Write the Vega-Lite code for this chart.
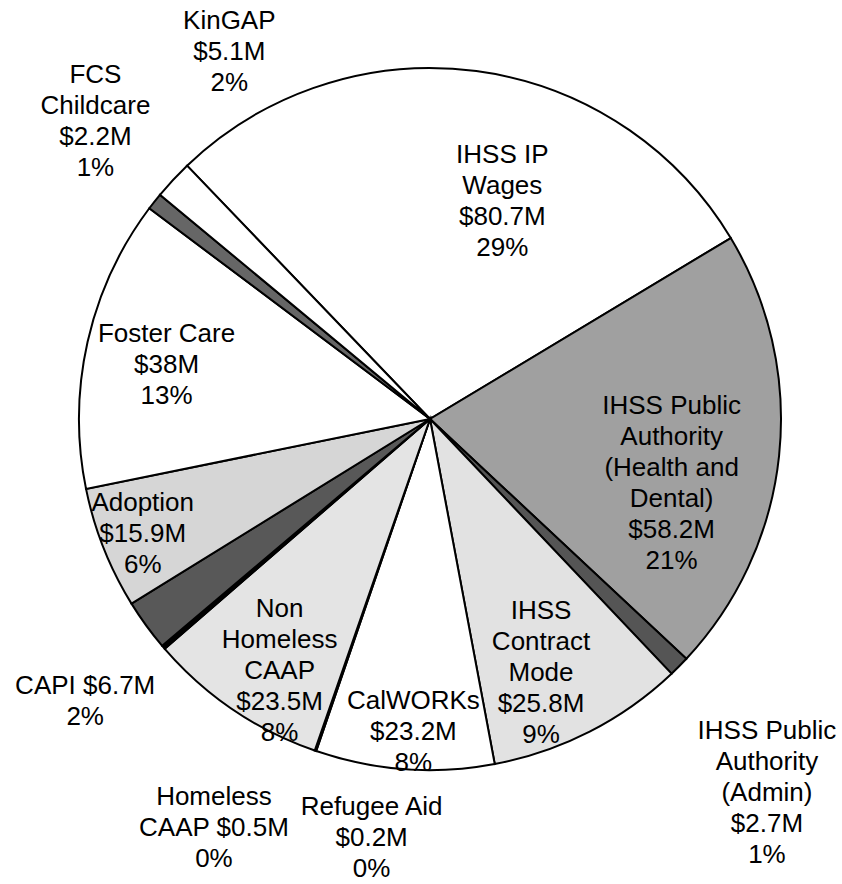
{
  "$schema": "https://vega.github.io/schema/vega-lite/v6.json",
  "width": 822,
  "height": 838,
  "autosize": "none",
  "padding": {"left": 19, "top": 0, "right": 0, "bottom": 46},
  "background": "white",
  "config": {
    "view": {"stroke": null},
    "text": {"font": "Liberation Sans", "fontSize": 26, "lineHeight": 31, "lineBreak": "\n", "baseline": "middle", "align": "center", "color": "black"}
  },
  "data": {
    "values": [
      {"idx": 1, "cat": "IHSS IP Wages", "value": 80.7, "label": "IHSS IP\nWages\n$80.7M\n29%"},
      {"idx": 2, "cat": "IHSS Public Authority (Health and Dental)", "value": 58.2, "label": "IHSS Public\nAuthority\n(Health and\nDental)\n$58.2M\n21%"},
      {"idx": 3, "cat": "IHSS Public Authority (Admin)", "value": 2.7, "label": "IHSS Public\nAuthority\n(Admin)\n$2.7M\n1%"},
      {"idx": 4, "cat": "IHSS Contract Mode", "value": 25.8, "label": "IHSS\nContract\nMode\n$25.8M\n9%"},
      {"idx": 5, "cat": "CalWORKs", "value": 23.2, "label": "CalWORKs\n$23.2M\n8%"},
      {"idx": 6, "cat": "Refugee Aid", "value": 0.2, "label": "Refugee Aid\n$0.2M\n0%"},
      {"idx": 7, "cat": "Non Homeless CAAP", "value": 23.5, "label": "Non\nHomeless\nCAAP\n$23.5M\n8%"},
      {"idx": 8, "cat": "Homeless CAAP", "value": 0.5, "label": "Homeless\nCAAP $0.5M\n0%"},
      {"idx": 9, "cat": "CAPI", "value": 6.7, "label": "CAPI $6.7M\n2%"},
      {"idx": 10, "cat": "Adoption", "value": 15.9, "label": "Adoption\n$15.9M\n6%"},
      {"idx": 11, "cat": "Foster Care", "value": 38, "label": "Foster Care\n$38M\n13%"},
      {"idx": 12, "cat": "FCS Childcare", "value": 2.2, "label": "FCS\nChildcare\n$2.2M\n1%"},
      {"idx": 13, "cat": "KinGAP", "value": 5.1, "label": "KinGAP\n$5.1M\n2%"}
    ]
  },
  "encoding": {
    "theta": {"field": "value", "type": "quantitative", "stack": true, "scale": {"range": [-0.7645, 5.5187]}},
    "order": {"field": "idx", "type": "quantitative", "sort": "ascending"}
  },
  "layer": [
    {
      "mark": {"type": "arc", "outerRadius": 351, "stroke": "black", "strokeWidth": 2},
      "encoding": {
        "color": {
          "field": "cat", "type": "nominal", "legend": null,
          "scale": {
            "domain": ["IHSS IP Wages", "IHSS Public Authority (Health and Dental)", "IHSS Public Authority (Admin)", "IHSS Contract Mode", "CalWORKs", "Refugee Aid", "Non Homeless CAAP", "Homeless CAAP", "CAPI", "Adoption", "Foster Care", "FCS Childcare", "KinGAP"],
            "range": ["#ffffff", "#a0a0a0", "#555555", "#e2e2e2", "#ffffff", "#000000", "#e4e4e4", "#000000", "#585858", "#d6d6d6", "#ffffff", "#666666", "#ffffff"]
          }
        }
      }
    },
    {"mark": {"type": "text", "radius": 230, "dx": 42, "dy": -36.5}, "encoding": {"detail": {"field": "cat"}, "text": {"condition": {"test": "datum.idx === 1", "field": "label", "type": "nominal"}, "value": ""}}},
    {"mark": {"type": "text", "radius": 250, "dx": -7, "dy": -39.5}, "encoding": {"detail": {"field": "cat"}, "text": {"condition": {"test": "datum.idx === 2", "field": "label", "type": "nominal"}, "value": ""}}},
    {"mark": {"type": "text", "radius": 503, "dx": -20, "dy": -42}, "encoding": {"detail": {"field": "cat"}, "text": {"condition": {"test": "datum.idx === 3", "field": "label", "type": "nominal"}, "value": ""}}},
    {"mark": {"type": "text", "radius": 277, "dx": -15, "dy": -55}, "encoding": {"detail": {"field": "cat"}, "text": {"condition": {"test": "datum.idx === 4", "field": "label", "type": "nominal"}, "value": ""}}},
    {"mark": {"type": "text", "radius": 313, "dx": 6, "dy": -30}, "encoding": {"detail": {"field": "cat"}, "text": {"condition": {"test": "datum.idx === 5", "field": "label", "type": "nominal"}, "value": ""}}},
    {"mark": {"type": "text", "radius": 421, "dx": 79, "dy": -10}, "encoding": {"detail": {"field": "cat"}, "text": {"condition": {"test": "datum.idx === 6", "field": "label", "type": "nominal"}, "value": ""}}},
    {"mark": {"type": "text", "radius": 293, "dx": 14, "dy": -53}, "encoding": {"detail": {"field": "cat"}, "text": {"condition": {"test": "datum.idx === 7", "field": "label", "type": "nominal"}, "value": ""}}},
    {"mark": {"type": "text", "radius": 432, "dx": 112, "dy": 97}, "encoding": {"detail": {"field": "cat"}, "text": {"condition": {"test": "datum.idx === 8", "field": "label", "type": "nominal"}, "value": ""}}},
    {"mark": {"type": "text", "radius": 446, "dx": 16, "dy": 4.5}, "encoding": {"detail": {"field": "cat"}, "text": {"condition": {"test": "datum.idx === 9", "field": "label", "type": "nominal"}, "value": ""}}},
    {"mark": {"type": "text", "radius": 309, "dx": 0, "dy": -30}, "encoding": {"detail": {"field": "cat"}, "text": {"condition": {"test": "datum.idx === 10", "field": "label", "type": "nominal"}, "value": ""}}},
    {"mark": {"type": "text", "radius": 268, "dx": -2, "dy": -26}, "encoding": {"detail": {"field": "cat"}, "text": {"condition": {"test": "datum.idx === 11", "field": "label", "type": "nominal"}, "value": ""}}},
    {"mark": {"type": "text", "radius": 448, "dx": 17, "dy": -66.5}, "encoding": {"detail": {"field": "cat"}, "text": {"condition": {"test": "datum.idx === 12", "field": "label", "type": "nominal"}, "value": ""}}},
    {"mark": {"type": "text", "radius": 419, "dx": 106, "dy": -113}, "encoding": {"detail": {"field": "cat"}, "text": {"condition": {"test": "datum.idx === 13", "field": "label", "type": "nominal"}, "value": ""}}}
  ]
}
